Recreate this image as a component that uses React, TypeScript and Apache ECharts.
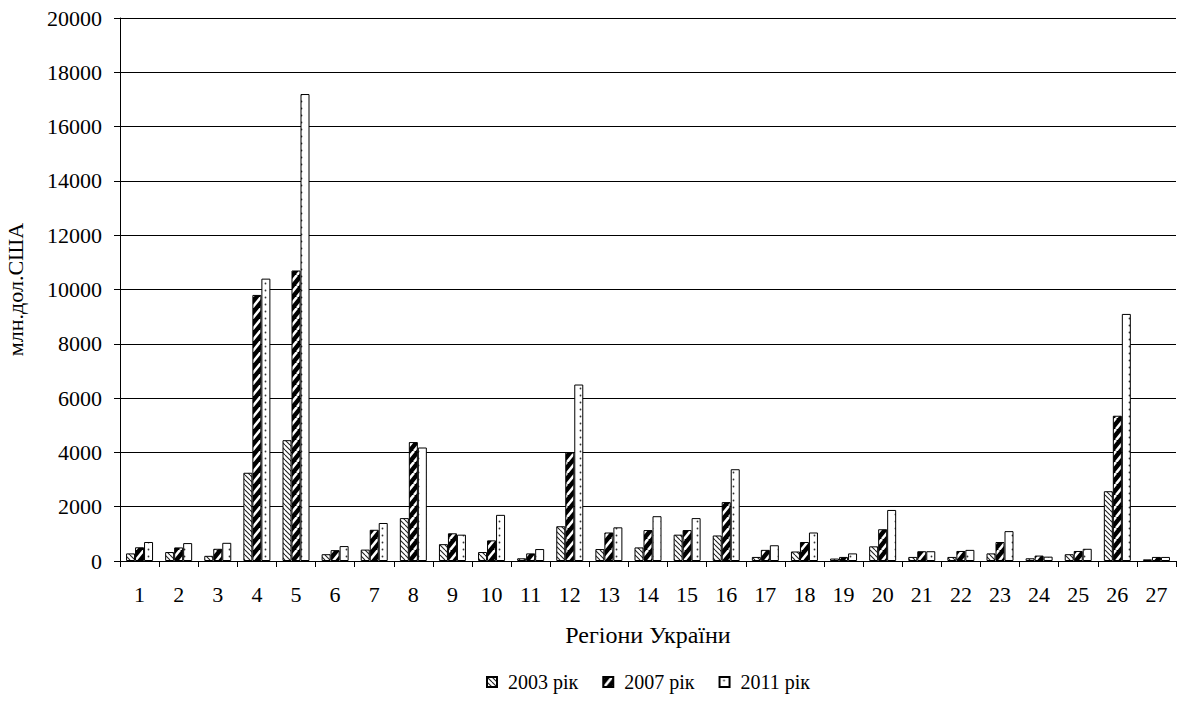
import React, { useEffect, useRef } from "react";
import * as echarts from "echarts";

const categories = ["1","2","3","4","5","6","7","8","9","10","11","12","13","14","15","16","17","18","19","20","21","22","23","24","25","26","27"];
const seriesNames = ["2003 рік", "2007 рік", "2011 рік"];
const values2003 = [280, 330, 190, 3250, 4450, 250, 420, 1580, 620, 330, 100, 1280, 440, 500, 970, 940, 150, 350, 90, 540, 150, 150, 280, 100, 250, 2570, 60];
const values2007 = [505, 500, 450, 9800, 10700, 400, 1150, 4380, 1020, 760, 280, 4000, 1050, 1140, 1140, 2170, 410, 700, 150, 1170, 360, 370, 700, 200, 370, 5350, 150];
const values2011 = [700, 660, 670, 10400, 17200, 550, 1400, 4180, 970, 1700, 440, 6500, 1240, 1650, 1580, 3380, 580, 1050, 280, 1880, 360, 410, 1100, 160, 450, 9100, 150];
const yMin = 0;
const yMax = 20000;
const yInterval = 2000;
const xAxisName = "Регіони України";
const yAxisName = "млн.дол.США";

const FONT = "'Liberation Serif', 'Times New Roman', serif";

function makeTile(w: number, h: number, draw: (ctx: CanvasRenderingContext2D) => void) {
  const c = document.createElement("canvas");
  c.width = w;
  c.height = h;
  const ctx = c.getContext("2d")!;
  draw(ctx);
  return c;
}

function hatchPattern() {
  const s = 5;
  return makeTile(s, s, (ctx) => {
    ctx.fillStyle = "#fff";
    ctx.fillRect(0, 0, s, s);
    ctx.strokeStyle = "#222";
    ctx.lineWidth = 1.1;
    for (const o of [-s, 0, s]) {
      ctx.beginPath();
      ctx.moveTo(o, 0);
      ctx.lineTo(o + s, s);
      ctx.stroke();
    }
  });
}

function stripePattern() {
  const w = 9, h = 11;
  return makeTile(w, h, (ctx) => {
    ctx.fillStyle = "#000";
    ctx.fillRect(0, 0, w, h);
    ctx.strokeStyle = "#fff";
    ctx.lineWidth = 2.6;
    for (const o of [-w, 0, w]) {
      ctx.beginPath();
      ctx.moveTo(o, h);
      ctx.lineTo(o + w, 0);
      ctx.stroke();
    }
  });
}

function dotPattern() {
  const w = 9, h = 7;
  return makeTile(w, h, (ctx) => {
    ctx.fillStyle = "#fff";
    ctx.fillRect(0, 0, w, h);
    ctx.fillStyle = "#333";
    ctx.beginPath();
    ctx.arc(4.5, 3.5, 0.9, 0, Math.PI * 2);
    ctx.fill();
  });
}

export default function App() {
  const ref = useRef<HTMLDivElement>(null);
  useEffect(() => {
    document.body.style.margin = "0";
    const chart = echarts.init(ref.current!, null, { renderer: "svg" });
    const patterns = [hatchPattern(), stripePattern(), dotPattern()];
    const data = [values2003, values2007, values2011];
    chart.setOption({
      animation: false,
      backgroundColor: "#fff",
      textStyle: { fontFamily: FONT, color: "#000" },
      grid: { left: 120, right: 3, top: 18, bottom: 141, outerBoundsMode: "none", containLabel: false },
      legend: {
        top: 672,
        left: 486,
        icon: "rect",
        itemWidth: 10,
        itemHeight: 10,
        itemGap: 24,
        padding: 0,
        textStyle: { fontFamily: FONT, fontSize: 20, color: "#000", padding: [0, 0, 0, 6] },
        data: seriesNames,
      },
      xAxis: {
        type: "category",
        data: categories,
        name: xAxisName,
        nameLocation: "middle",
        nameGap: 62,
        nameTextStyle: { fontFamily: FONT, fontSize: 24, color: "#000" },
        axisLine: { lineStyle: { color: "#000", width: 1 } },
        axisTick: { show: true, length: 6, lineStyle: { color: "#000" } },
        axisLabel: { fontFamily: FONT, fontSize: 22, color: "#000", margin: 22, interval: 0 },
      },
      yAxis: {
        type: "value",
        min: yMin,
        max: yMax,
        interval: yInterval,
        name: yAxisName,
        nameLocation: "middle",
        nameGap: 94,
        nameTextStyle: { fontFamily: FONT, fontSize: 22, color: "#000" },
        axisLine: { show: true, lineStyle: { color: "#000", width: 1 } },
        axisTick: { show: true, length: 6, lineStyle: { color: "#000" } },
        axisLabel: { fontFamily: FONT, fontSize: 22, color: "#000", margin: 18, formatter: (v: number) => String(v) },
        splitLine: { show: true, lineStyle: { color: "#000", width: 1 } },
      },
      series: seriesNames.map((name, i) => ({
        name,
        type: "bar",
        data: data[i],
        barWidth: 9,
        barGap: "0%",
        itemStyle: {
          color: { image: patterns[i], repeat: "repeat" },
          borderColor: "#000",
          borderWidth: 1,
        },
      })),
    });
    return () => chart.dispose();
  }, []);
  return <div ref={ref} style={{ position: "absolute", left: 0, top: 0, width: 1179, height: 702 }} />;
}
